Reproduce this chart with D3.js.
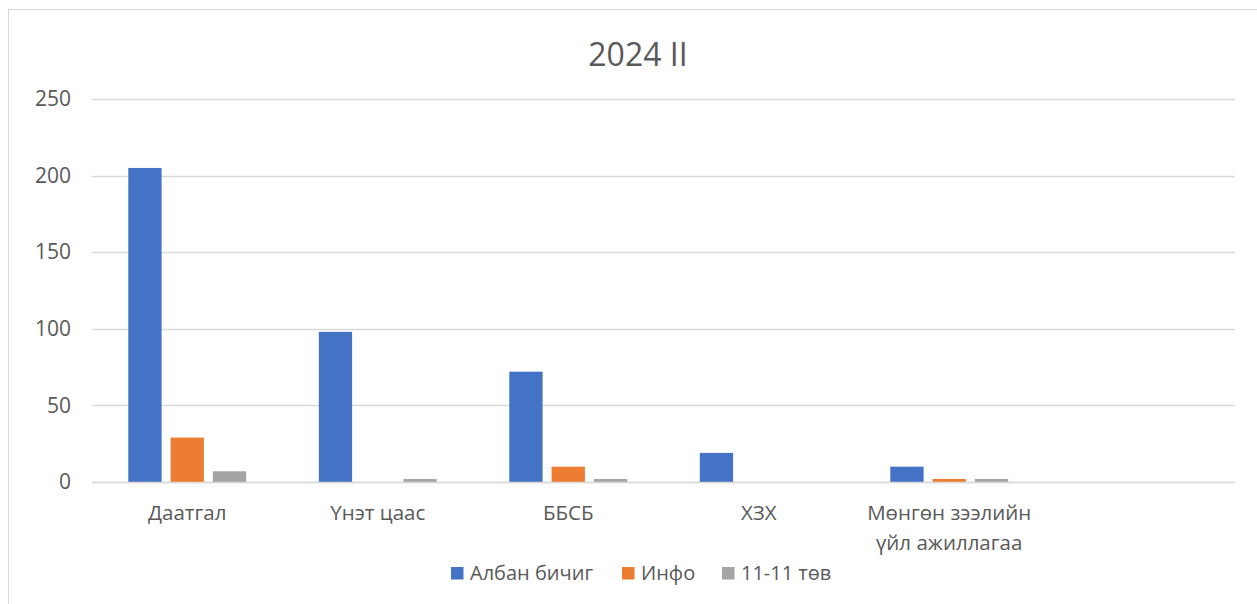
<!DOCTYPE html>
<html><head><meta charset="utf-8">
<script src="https://cdn.jsdelivr.net/npm/d3@7"></script>
<style>body{margin:0;background:#fff;}svg{display:block;}</style>
</head><body>
<script>
const categories = ["Даатгал", "Үнэт цаас", "ББСБ", "ХЗХ", "Мөнгөн зээлийн үйл ажиллагаа", ""];
const seriesNames = ["Албан бичиг", "Инфо", "11-11 төв"];
const albanBichig = [205, 98, 72, 19, 10, null];
const info = [29, 0, 10, 0, 2, null];
const tuv1111 = [7, 2, 2, 0, 2, null];
const yTicks = [0, 50, 100, 150, 200, 250];
const colors = ["#4472C4", "#ED7D31", "#A5A5A5"];
const title = "2024 II";

(function () {
const W = 1257, H = 604;
const svg = d3.select("body").append("svg").attr("width", W).attr("height", H);
const font = "'Open Sans', sans-serif";
const textColor = "#595959";

svg.append("rect").attr("x", 8.5).attr("y", 9.5).attr("width", W + 10).attr("height", H + 10)
  .attr("fill", "#fff").attr("stroke", "#d9d9d9").attr("stroke-width", 1);

const pLeft = 92, pRight = 1235, pTop = 99, pBottom = 482;
const x = d3.scaleBand().domain(categories.map((c, i) => i)).range([pLeft, pRight]).paddingInner(0).paddingOuter(0);
const y = d3.scaleLinear().domain([0, 250]).range([pBottom, pTop]);

// grid
svg.append("g").selectAll("line").data(yTicks).join("line")
  .attr("x1", pLeft).attr("x2", pRight)
  .attr("y1", d => Math.round(y(d)) + 0.5).attr("y2", d => Math.round(y(d)) + 0.5)
  .attr("stroke", "#d9d9d9").attr("stroke-width", 1.5);

// y axis labels
const yAxis = d3.axisLeft(y).tickValues(yTicks).tickSize(0).tickPadding(0);
const ya = svg.append("g").attr("transform", `translate(71,0)`).call(yAxis);
ya.select(".domain").remove();
ya.selectAll("text").attr("font-family", font).attr("font-size", 21).attr("fill", textColor);

// bars
const series = [albanBichig, info, tuv1111];
const bw = 33.3, step = 42.3;
const groupW = bw + 2 * step;
series.forEach((vals, s) => {
  svg.append("g").selectAll("rect").data(vals.map((v, i) => ({v, i})).filter(d => d.v != null && d.v > 0)).join("rect")
    .attr("x", d => x(d.i) + x.bandwidth() / 2 - groupW / 2 + s * step)
    .attr("width", bw)
    .attr("y", d => y(d.v))
    .attr("height", d => y(0) - y(d.v))
    .attr("fill", colors[s]);
});

// axis baseline
svg.append("line").attr("x1", pLeft).attr("x2", pRight).attr("y1", Math.round(y(0)) + 0.5).attr("y2", Math.round(y(0)) + 0.5)
  .attr("stroke", "#d9d9d9").attr("stroke-width", 1.5);

// x labels
const xl = svg.append("g");
categories.forEach((c, i) => {
  const words = c.split(" ");
  let lines = [c];
  if (c.length > 14) lines = [words.slice(0, 2).join(" "), words.slice(2).join(" ")];
  lines.forEach((ln, k) => {
    xl.append("text").attr("x", x(i) + x.bandwidth() / 2).attr("y", 520 + k * 30)
      .attr("text-anchor", "middle").attr("font-family", font).attr("font-size", 20.5).attr("fill", textColor).text(ln);
  });
});

// title
svg.append("text").attr("x", 638).attr("y", 66).attr("text-anchor", "middle")
  .attr("font-family", font).attr("font-size", 32).attr("fill", textColor).text(title);

// legend
const leg = svg.append("g");
const legX = [451, 622, 722];
seriesNames.forEach((n, s) => {
  leg.append("rect").attr("x", legX[s]).attr("y", 567).attr("width", 12.5).attr("height", 12.5).attr("fill", colors[s]);
  leg.append("text").attr("x", legX[s] + 19).attr("y", 580).attr("font-family", font).attr("font-size", 20)
    .attr("fill", textColor).text(n);
});
})();
</script>
</body></html>
